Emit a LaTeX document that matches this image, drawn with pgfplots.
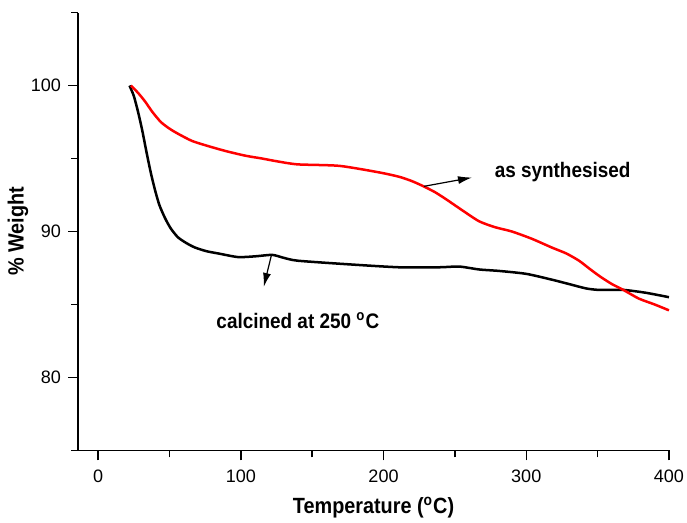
\documentclass[border=0pt]{standalone}
\usepackage{pgfplots}
\pgfplotsset{compat=1.18}
\usepackage{fontspec}
\setmainfont{Liberation Sans}
\newfontfamily\lbl[FakeStretch=0.9]{Liberation Sans}
\usetikzlibrary{arrows.meta}

\begin{document}
\begin{tikzpicture}
\begin{axis}[
name=ax,
scale only axis,
width=295pt,height=218.6pt,
xmin=-14,xmax=400,ymin=75,ymax=105,
axis x line*=bottom,axis y line*=left,
axis line style={line width=0.75pt},
tick align=outside,
xtick={0,100,200,300,400},ytick={80,90,100},
minor xtick={50,150,250,350},minor ytick={75,85,95,105},
major tick length=5pt,minor tick length=3.5pt,
tick style={line width=0.75pt,black},
/pgf/number format/assume math mode=true,
tick label style={font=\fontsize{9}{11}\selectfont},
xticklabel style={yshift=-1pt},
xlabel={\textbf{Temperature (\textsuperscript{o}C)}},
ylabel={\textbf{\% Weight}},
label style={font=\lbl\fontsize{11}{13}\selectfont},
xlabel style={at={([yshift=-28.5pt]axis description cs:0.5,0)},anchor=center},
ylabel style={at={([xshift=-30pt]axis description cs:0,0.5)},anchor=center},
clip=false]
% calcined at 250 C
\addplot[black,line width=1.25pt,smooth,tension=0.4] coordinates {
(22,100) (25,99.3) (28,98.2) (31,96.9) (34,95.4) (37,94.0) (40,92.8) (43,91.8)
(47,90.9) (51,90.2) (56,89.6) (62,89.2) (68,88.9) (76,88.65) (84,88.5) (98,88.25)
(110,88.3) (122,88.4) (130,88.2) (140,88.0) (176,87.75) (211,87.55) (239,87.55)
(253,87.6) (267,87.4) (281,87.3) (300,87.1) (318,86.7) (330,86.4) (342,86.1)
(351,86.0) (368,86.0) (384,85.8) (400,85.5)};
% as synthesised
\addplot[red,line width=1.25pt,smooth,tension=0.4] coordinates {
(23,100) (28,99.5) (33,98.9) (38,98.2) (44,97.5) (50,97.05) (56,96.7) (66,96.2)
(79,95.8) (90,95.5) (103,95.2) (115,95.0) (126,94.8) (140,94.6) (169,94.5)
(197,94.05) (211,93.75) (220,93.45) (228,93.1) (236,92.7) (244,92.2) (256,91.4)
(267,90.7) (278,90.3) (290,90.0) (304,89.5) (318,88.9) (328,88.5) (337,88.0)
(345,87.4) (352,86.9) (360,86.4) (368,86.0) (379,85.4) (390,85.0) (400,84.6)};
\draw[-{Latex[length=7pt,width=4pt]},line width=0.6pt] (axis cs:228.5,93.1) -- (axis cs:262,93.7);
\node[anchor=west,font=\lbl\bfseries\fontsize{10.5}{12}\selectfont] at (axis cs:273,94.1) {as synthesised};
\draw[-{Latex[length=7pt,width=4pt]},line width=0.6pt] (axis cs:121.5,88.4) -- (axis cs:116,86.2);
\node[anchor=west,font=\lbl\bfseries\fontsize{10.5}{12}\selectfont] at (axis cs:78,83.9) {calcined at 250 \textsuperscript{o}C};
\end{axis}
\pgfresetboundingbox
\path ([shift={(-39pt,-36pt)}]ax.south west) rectangle ([shift={(9pt,6.3pt)}]ax.north east);
\end{tikzpicture}
\end{document}
